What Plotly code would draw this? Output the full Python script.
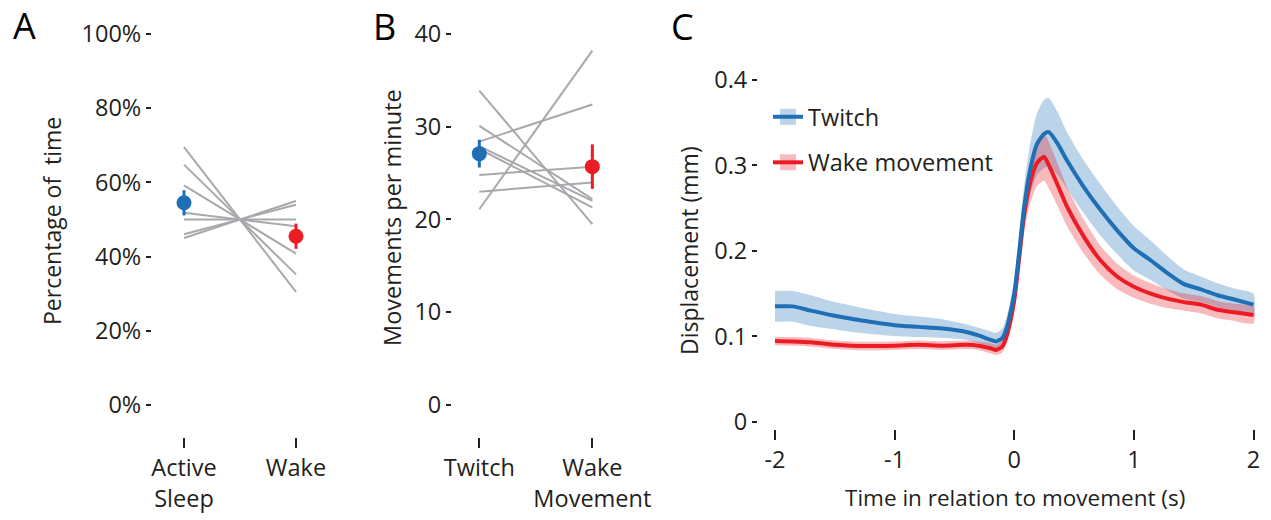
import plotly.graph_objects as go

W, H = 1271, 520

# ---------------- Panel A data (percentage of time) ----------------
a_categories = ["Active<br>Sleep", "Wake"]
a_active_sleep = [69.5, 64.8, 59.2, 51.8, 50.0, 46.0, 45.0]
a_wake = [30.5, 35.2, 40.8, 48.2, 50.0, 54.0, 55.0]
a_means = [54.5, 45.5]
a_sem = [3.4, 3.4]
a_ticks = [0, 20, 40, 60, 80, 100]
a_ticklabels = ["0%", "20%", "40%", "60%", "80%", "100%"]

# ---------------- Panel B data (movements per minute) ----------------
b_categories = ["Twitch", "Wake<br>Movement"]
b_twitch = [33.9, 30.1, 28.4, 27.9, 27.6, 24.8, 23.0, 21.1]
b_wake = [19.5, 22.2, 32.4, 22.0, 21.3, 25.7, 24.0, 38.2]
b_means = [27.1, 25.7]
b_sem = [1.5, 2.4]
b_ticks = [0, 10, 20, 30, 40]

# ---------------- Panel C data (displacement, mm) ----------------
time_s = [-2.0, -1.85, -1.7, -1.5, -1.3, -1.0, -0.8, -0.6, -0.4, -0.3, -0.2, -0.15,
          -0.1, -0.06, 0.0, 0.04, 0.08, 0.13, 0.19, 0.25, 0.29, 0.36, 0.44, 0.58,
          0.72, 0.86, 1.0, 1.14, 1.28, 1.42, 1.56, 1.7, 1.84, 2.0]
twitch_mean = [0.135, 0.135, 0.130, 0.124, 0.119, 0.113, 0.111, 0.109, 0.105, 0.101,
               0.096, 0.094, 0.098, 0.111, 0.150, 0.197, 0.248, 0.293, 0.325, 0.337,
               0.339, 0.326, 0.306, 0.275, 0.248, 0.224, 0.203, 0.189, 0.174, 0.161,
               0.155, 0.148, 0.143, 0.137]
twitch_sem = [0.018, 0.018, 0.018, 0.016, 0.015, 0.013, 0.012, 0.011, 0.009, 0.009,
              0.010, 0.010, 0.011, 0.013, 0.016, 0.020, 0.025, 0.030, 0.036, 0.040,
              0.040, 0.037, 0.033, 0.031, 0.030, 0.028, 0.026, 0.023, 0.020, 0.017,
              0.015, 0.014, 0.013, 0.013]
wake_mean = [0.0945, 0.094, 0.093, 0.090, 0.0886, 0.089, 0.090, 0.089, 0.090, 0.089,
             0.086, 0.084, 0.088, 0.102, 0.142, 0.190, 0.240, 0.278, 0.303, 0.310,
             0.300, 0.278, 0.252, 0.217, 0.189, 0.170, 0.158, 0.150, 0.144, 0.140,
             0.137, 0.131, 0.128, 0.125]
wake_sem = [0.005, 0.005, 0.005, 0.005, 0.005, 0.005, 0.005, 0.005, 0.005, 0.005,
            0.006, 0.006, 0.007, 0.009, 0.012, 0.016, 0.020, 0.024, 0.027, 0.028,
            0.027, 0.025, 0.023, 0.020, 0.017, 0.015, 0.013, 0.012, 0.011, 0.010,
            0.010, 0.010, 0.010, 0.010]
c_xticks = [-2, -1, 0, 1, 2]
c_xticklabels = ["-2", "-1", "0", "1", "2"]
c_yticks = [0, 0.1, 0.2, 0.3, 0.4]
c_yticklabels = ["0", "0.1", "0.2", "0.3", "0.4"]

# ---------------- styling ----------------
FONT = "Open Sans"
TXT = "#231f20"
GRAY = "#a7a9ac"
BLUE = "#1f6fb7"
RED = "#ec1c24"
BLUE_BAND = "rgba(31,111,183,0.30)"
RED_BAND = "rgba(236,28,36,0.30)"
TICK_SIZE = 23.5

fig = go.Figure()

# Panel A
for s, w in zip(a_active_sleep, a_wake):
    fig.add_trace(go.Scatter(x=[0, 1], y=[s, w], mode="lines", line=dict(color=GRAY, width=2),
                             showlegend=False, hoverinfo="skip", xaxis="x", yaxis="y"))
for i, col in enumerate([BLUE, RED]):
    fig.add_trace(go.Scatter(x=[i], y=[a_means[i]], mode="markers",
                             marker=dict(color=col, size=15),
                             error_y=dict(type="data", array=[a_sem[i]], color=col, thickness=3, width=0),
                             showlegend=False, xaxis="x", yaxis="y"))

# Panel B
for s, w in zip(b_twitch, b_wake):
    fig.add_trace(go.Scatter(x=[0, 1], y=[s, w], mode="lines", line=dict(color=GRAY, width=2),
                             showlegend=False, hoverinfo="skip", xaxis="x2", yaxis="y2"))
for i, col in enumerate([BLUE, RED]):
    fig.add_trace(go.Scatter(x=[i], y=[b_means[i]], mode="markers",
                             marker=dict(color=col, size=15),
                             error_y=dict(type="data", array=[b_sem[i]], color=col, thickness=3, width=0),
                             showlegend=False, xaxis="x2", yaxis="y2"))

# Panel C bands
def band(mean, sem, color):
    up = [m + s for m, s in zip(mean, sem)]
    lo = [m - s for m, s in zip(mean, sem)]
    return go.Scatter(x=time_s + time_s[::-1], y=up + lo[::-1], fill="toself",
                      fillcolor=color, line=dict(width=0, shape="spline", smoothing=0.6),
                      mode="lines", showlegend=False, hoverinfo="skip",
                      xaxis="x3", yaxis="y3")

fig.add_trace(band(twitch_mean, twitch_sem, BLUE_BAND))
fig.add_trace(band(wake_mean, wake_sem, RED_BAND))
fig.add_trace(go.Scatter(x=time_s, y=wake_mean, mode="lines",
                         line=dict(color=RED, width=4, shape="spline", smoothing=0.6),
                         showlegend=False, xaxis="x3", yaxis="y3"))
fig.add_trace(go.Scatter(x=time_s, y=twitch_mean, mode="lines",
                         line=dict(color=BLUE, width=4, shape="spline", smoothing=0.6),
                         showlegend=False, xaxis="x3", yaxis="y3"))

# legend entries
for name, lc, fc, grp in [("Twitch", BLUE, BLUE_BAND, "g1"), ("Wake movement", RED, RED_BAND, "g2")]:
    fig.add_trace(go.Scatter(x=[None], y=[None], mode="lines+markers", name=name,
                             line=dict(color=lc, width=4),
                             marker=dict(symbol="square", size=24, color=fc),
                             legendgroup=grp, xaxis="x3", yaxis="y3"))

def px_x(p):
    return p / W

def px_y(p):
    return (H - p) / H

axis_common = dict(showgrid=False, zeroline=False, showline=False, ticks="outside",
                   tickcolor=TXT, tickfont=dict(family=FONT, size=TICK_SIZE, color=TXT),
                   fixedrange=True, automargin=False)

fig.update_layout(
    width=W, height=H,
    margin=dict(l=0, r=0, t=0, b=0, pad=0, autoexpand=False),
    paper_bgcolor="white", plot_bgcolor="white",
    font=dict(family=FONT, color=TXT, size=22),
    xaxis=dict(domain=[px_x(152), px_x(330)], range=[-0.2857, 1.3036],
               tickvals=[0, 1], ticktext=a_categories, ticklen=10, tickwidth=1.5,
               anchor="y", **axis_common),
    yaxis=dict(domain=[px_y(437), px_y(30)], range=[-8.625, 101.08],
               tickvals=a_ticks, ticktext=a_ticklabels, ticklen=5, tickwidth=1.5,
               anchor="x", **axis_common),
    xaxis2=dict(domain=[px_x(452), px_x(625)], range=[-0.2416, 1.289],
                tickvals=[0, 1], ticktext=b_categories, ticklen=10, tickwidth=1.5,
                anchor="y2", **axis_common),
    yaxis2=dict(domain=[px_y(437), px_y(30)], range=[-3.45, 40.43],
                tickvals=b_ticks, ticklen=5, tickwidth=1.5,
                anchor="x2", **axis_common),
    xaxis3=dict(domain=[px_x(758), px_x(1265)], range=[-2.142, 2.096],
                tickvals=c_xticks, ticktext=c_xticklabels, ticklen=10, tickwidth=1.5,
                anchor="y3", **axis_common),
    yaxis3=dict(domain=[px_y(429), px_y(60)], range=[-0.00855, 0.4234],
                tickvals=c_yticks, ticktext=c_yticklabels, ticklen=5, tickwidth=1.5,
                anchor="x3", **axis_common),
    legend=dict(x=px_x(768), y=px_y(95), xanchor="left", yanchor="top",
                font=dict(family=FONT, size=23.5, color=TXT), bgcolor="rgba(0,0,0,0)",
                tracegroupgap=12, itemclick=False, itemdoubleclick=False),
    showlegend=True,
)

annos = [
    dict(text="A", x=px_x(24.5), y=px_y(25), font=dict(size=36, color="black")),
    dict(text="B", x=px_x(384), y=px_y(26), font=dict(size=36, color="black")),
    dict(text="C", x=px_x(682), y=px_y(26), font=dict(size=36, color="black")),
    dict(text="Percentage of  time", x=px_x(52), y=px_y(221), textangle=-90, font=dict(size=23, color=TXT)),
    dict(text="Movements per minute", x=px_x(392), y=px_y(218), textangle=-90, font=dict(size=23.5, color=TXT)),
    dict(text="Displacement (mm)", x=px_x(689), y=px_y(251), textangle=-90, font=dict(size=23, color=TXT)),
    dict(text="Time in relation to movement (s)", x=px_x(1015), y=px_y(497), font=dict(size=22.5, color=TXT)),
]
for a in annos:
    a.update(xref="paper", yref="paper", showarrow=False, xanchor="center", yanchor="middle")
    a["font"]["family"] = FONT
fig.update_layout(annotations=annos)

fig.write_html("out.html", config={"displayModeBar": False},
               post_script="document.body.style.margin='0';document.body.style.padding='0';"
                           "document.body.style.overflow='hidden';")
